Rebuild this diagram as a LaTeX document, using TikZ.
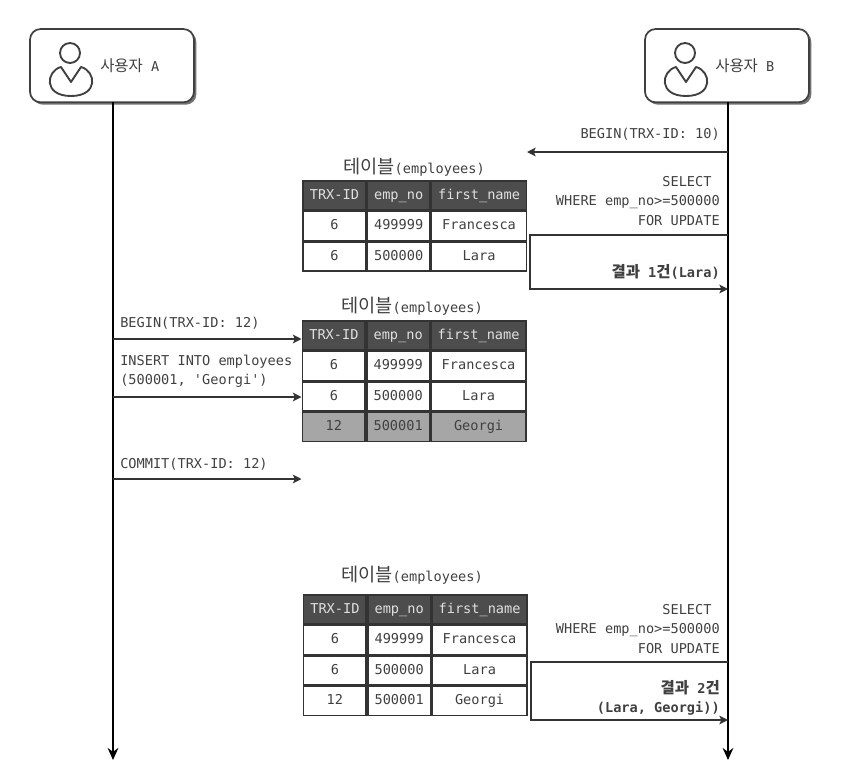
\documentclass[tikz,border=0pt]{standalone}
\usepackage{fontspec}
\setmonofont{DejaVu Sans Mono}
\newfontfamily\krfont{Noto Sans CJK KR}
\usetikzlibrary{matrix,shadows,arrows.meta}
\definecolor{inkgray}{HTML}{404040}
\definecolor{hdrgray}{HTML}{4D4D4D}
\definecolor{newgray}{HTML}{A6A6A6}
\newcommand{\krtext}[2][11.6]{{\krfont\fontsize{#1}{14.6}\selectfont #2}}
\tikzset{
  actorbox/.style={draw=black!75,line width=1.3pt,fill=white,rounded corners=8pt,
    minimum width=123pt,minimum height=55pt,outer sep=0pt,anchor=north west,
    drop shadow={shadow xshift=1.8pt,shadow yshift=-1.8pt,fill=black,opacity=.55}},
  msg/.style={font=\ttfamily\fontsize{10.2}{14.6}\selectfont,text=inkgray,inner sep=0pt},
  boldmsg/.style={msg,font=\ttfamily\bfseries\fontsize{10.2}{14.6}\selectfont},
  lifeline/.style={line width=2pt,-{Stealth[length=9pt,width=8pt]}},
  call/.style={line width=.9pt,draw=black!80,-{Stealth[length=6.5pt,width=6.5pt,inset=1.5pt]}},
  usericon/.pic={
    \draw[line width=1.4pt,black!75] (0,0) circle (7.5pt);
    \draw[line width=1.4pt,black!75,line join=round]
      (-9,14) .. controls (-24,18) and (-27,43) .. (1,43)
      .. controls (29,43) and (26,18) .. (11,14) -- (1,29) -- cycle;
  },
  emptable/.style={matrix of nodes,inner sep=0pt,anchor=north west,
    nodes={draw=black!80,line width=1.2pt,outer sep=0pt,anchor=center,inner sep=0pt,
      minimum height=21.7pt,text=inkgray,text height=7.5pt,text depth=2pt,
      font=\ttfamily\fontsize{10.2}{11}\selectfont},
    column 1/.style={nodes={minimum width=47pt}},
    column 2/.style={nodes={minimum width=47pt}},
    column 3/.style={nodes={minimum width=71.2pt}},
    row 1/.style={nodes={fill=hdrgray,text=black!12}}}
}
\begin{document}
\begin{tikzpicture}[x=0.75pt,y=-0.75pt]
  \useasboundingbox (0,0) rectangle (852,782);

  % users
  \node[actorbox] (usera) at (30,29) {};
  \node[actorbox] (userb) at (645,29) {};
  \pic at (70,53) {usericon};
  \pic at (685,53) {usericon};
  \node[msg,anchor=west] (labela) at (100,66) {\krtext{사용자} A};
  \node[msg,anchor=west] (labelb) at (715,66) {\krtext{사용자} B};

  \coordinate (enda) at (113,760);
  \coordinate (endb) at (728,760);
  \draw[lifeline] (usera.south -| enda) -- (enda);
  \draw[lifeline] (userb.south -| endb) -- (endb);

  % first table
  \node[msg] (title1) at (414,167) {\krtext[14]{테이블}(employees)};
  \matrix[emptable] (tbl1) at (302,180)
  {
    TRX-ID & emp\_no & first\_name \\
    6 & 499999 & Francesca \\
    6 & 500000 & Lara \\
  };

  \coordinate (b1) at (728,152);
  \coordinate (b1end) at (527,152);
  \draw[call] (b1) -- (b1end);
  \node[msg,anchor=east] (begin10) at (720,134) {BEGIN(TRX-ID: 10)};
  \node[msg,anchor=east,align=right] (select1) at (720,201)
    {SELECT\ \ \\WHERE emp\_no>=500000\\FOR UPDATE};
  \coordinate (r1a) at (728,235);
  \coordinate (r1b) at (728,289);
  \coordinate (r1left) at (530,235);
  \draw[call] (r1a) -- (r1left) -- (r1left |- r1b) -- (r1b);
  \node[boldmsg,anchor=east] (result1) at (720,272)
    {\krtext{\bfseries 결과} 1\krtext{\bfseries 건}(Lara)};

  % second table
  \node[msg] (title2) at (412,306) {\krtext[14]{테이블}(employees)};
  \matrix[emptable] (tbl2) at (301.5,320)
  {
    TRX-ID & emp\_no & first\_name \\
    6 & 499999 & Francesca \\
    6 & 500000 & Lara \\
    |[fill=newgray]| 12 & |[fill=newgray]| 500001 & |[fill=newgray]| Georgi \\
  };

  \coordinate (a1) at (113,339);
  \coordinate (a2) at (113,397);
  \coordinate (a3) at (113,479);
  \draw[call] (a1) -- (a1 -| tbl2.west);
  \draw[call] (a2) -- (a2 -| tbl2.west);
  \draw[call] (a3) -- (a3 -| tbl2.west);
  \node[msg,anchor=west] (begin12) at (120,323) {BEGIN(TRX-ID: 12)};
  \node[msg,anchor=west,align=left] (insert) at (120,371.5)
    {INSERT INTO employees\\(500001, 'Georgi')};
  \node[msg,anchor=west] (commit) at (120,464) {COMMIT(TRX-ID: 12)};

  % third table
  \node[msg] (title3) at (412,575) {\krtext[14]{테이블}(employees)};
  \matrix[emptable] (tbl3) at (302.5,594)
  {
    TRX-ID & emp\_no & first\_name \\
    6 & 499999 & Francesca \\
    6 & 500000 & Lara \\
    12 & 500001 & Georgi \\
  };

  \node[msg,anchor=east,align=right] (select2) at (720,629)
    {SELECT\ \ \\WHERE emp\_no>=500000\\FOR UPDATE};
  \coordinate (r2a) at (728,662);
  \coordinate (r2b) at (728,720);
  \coordinate (r2left) at (531,662);
  \draw[call] (r2a) -- (r2left) -- (r2left |- r2b) -- (r2b);
  \node[boldmsg,anchor=east,align=right] (result2) at (720,698)
    {\krtext{\bfseries 결과} 2\krtext{\bfseries 건}\\(Lara, Georgi))};
\end{tikzpicture}
\end{document}
